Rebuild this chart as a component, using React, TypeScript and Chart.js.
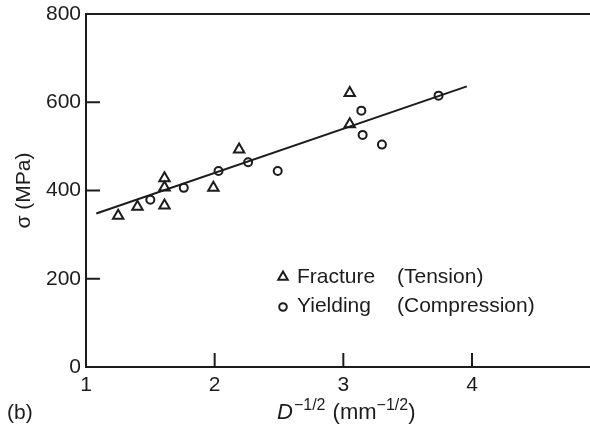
import React, { useEffect, useRef } from 'react';
import { Chart, registerables } from 'chart.js';

Chart.register(...registerables);

// ---- data ----
const tensionX = [1.25, 1.4, 1.61, 1.61, 1.61, 1.99, 2.19, 3.05, 3.05];
const tensionY = [343, 363, 428, 407, 366, 406, 493, 621, 550];
const compressionX = [1.5, 1.76, 2.03, 2.26, 2.49, 3.14, 3.15, 3.3, 3.74];
const compressionY = [379, 406, 444, 464, 444, 581, 526, 504, 615];
const fitX = [1.08, 3.96];
const fitY = [348, 636];
const xTickValues = [1, 2, 3, 4];
const yTickValues = [0, 200, 400, 600, 800];
const xInnerTicks = [2, 3, 4];
const yInnerTicks = [200, 400, 600];
const legendLabels = ['Fracture', 'Yielding'];
const legendNotes = ['(Tension)', '(Compression)'];

const INK = '#1c1c1c';
const FONT = "'Liberation Sans', Arial, Helvetica, sans-serif";

const zip = (xs: number[], ys: number[]) => xs.map((x, i) => ({ x, y: ys[i] }));

function drawTriangle(ctx: CanvasRenderingContext2D, cx: number, cy: number, r: number) {
  ctx.beginPath();
  for (let k = 0; k < 3; k++) {
    const a = -Math.PI / 2 + (k * 2 * Math.PI) / 3;
    const px = cx + r * Math.cos(a);
    const py = cy + r * Math.sin(a);
    if (k === 0) ctx.moveTo(px, py);
    else ctx.lineTo(px, py);
  }
  ctx.closePath();
  ctx.stroke();
}

const overlay = {
  id: 'overlay',
  afterDraw(chart: any) {
    const { ctx, chartArea, scales } = chart;
    const xs = scales.x;
    const ys = scales.y;
    ctx.save();
    ctx.strokeStyle = INK;
    ctx.fillStyle = INK;
    ctx.lineWidth = 2;
    // top frame line and continuation of the bottom axis to the page edge
    ctx.beginPath();
    ctx.moveTo(chartArea.left - 1, chartArea.top);
    ctx.lineTo(chart.width, chartArea.top);
    ctx.moveTo(chartArea.right - 2, chartArea.bottom);
    ctx.lineTo(chart.width, chartArea.bottom);
    ctx.stroke();
    // inner tick marks
    xInnerTicks.forEach((v) => {
      const px = xs.getPixelForValue(v);
      ctx.beginPath();
      ctx.moveTo(px, chartArea.bottom);
      ctx.lineTo(px, chartArea.bottom - 14);
      ctx.stroke();
    });
    yInnerTicks.forEach((v) => {
      const py = ys.getPixelForValue(v);
      ctx.beginPath();
      ctx.moveTo(chartArea.left, py);
      ctx.lineTo(chartArea.left + 14, py);
      ctx.stroke();
    });

    // legend
    const lx = 283;
    const ly = [277, 306];
    ctx.lineWidth = 2;
    drawTriangle(ctx, lx, ly[0], 5.5);
    ctx.beginPath();
    ctx.arc(lx, ly[1] + 1, 3.8, 0, Math.PI * 2);
    ctx.stroke();
    ctx.font = `21px ${FONT}`;
    ctx.textBaseline = 'middle';
    ctx.textAlign = 'left';
    legendLabels.forEach((t, i) => ctx.fillText(t, 297, ly[i]));
    legendNotes.forEach((t, i) => ctx.fillText(t, 397, ly[i]));

    // panel label
    ctx.fillText('(b)', 7, 413);

    // x axis title with superscripts
    let x = 277;
    const base = 413;
    ctx.font = `italic 22px ${FONT}`;
    ctx.fillText('D', x, base);
    x += ctx.measureText('D').width + 1;
    ctx.font = `16px ${FONT}`;
    ctx.fillText('\u22121/2', x, base - 7);
    x += ctx.measureText('\u22121/2').width + 1;
    ctx.font = `22px ${FONT}`;
    ctx.fillText(' (mm', x, base);
    x += ctx.measureText(' (mm').width;
    ctx.font = `16px ${FONT}`;
    ctx.fillText('\u22121/2', x, base - 7);
    x += ctx.measureText('\u22121/2').width;
    ctx.font = `22px ${FONT}`;
    ctx.fillText(')', x, base);
    ctx.restore();
  },
};

export default function App() {
  const ref = useRef<HTMLCanvasElement | null>(null);
  useEffect(() => {
    document.body.style.margin = '0';
    const canvas = ref.current;
    if (!canvas) return;
    const chart = new Chart(canvas, {
      type: 'scatter',
      data: {
        datasets: [
          {
            type: 'line',
            label: 'fit',
            data: zip(fitX, fitY),
            borderColor: INK,
            borderWidth: 2,
            pointRadius: 0,
            fill: false,
          } as any,
          {
            label: 'Fracture (Tension)',
            data: zip(tensionX, tensionY),
            pointStyle: 'triangle',
            pointRadius: 6,
            borderColor: INK,
            backgroundColor: 'rgba(255,255,255,1)',
            borderWidth: 2,
          },
          {
            label: 'Yielding (Compression)',
            data: zip(compressionX, compressionY),
            pointStyle: 'circle',
            pointRadius: 4,
            borderColor: INK,
            backgroundColor: 'rgba(255,255,255,1)',
            borderWidth: 2,
          },
        ],
      },
      options: {
        animation: false,
        responsive: false,
        devicePixelRatio: 1,
        layout: { padding: { top: 14, right: 0, left: 0, bottom: 0 } },
        plugins: { legend: { display: false }, tooltip: { enabled: false } },
        scales: {
          x: {
            type: 'linear',
            min: 1,
            max: 4.855,
            afterBuildTicks: (s: any) => {
              s.ticks = xTickValues.map((v) => ({ value: v }));
            },
            afterFit: (s: any) => {
              s.height = 58;
              s.paddingRight = 0;
              s.paddingLeft = 0;
            },
            grid: { display: false, drawTicks: false },
            border: { display: true, color: INK, width: 2 },
            ticks: {
              color: INK,
              font: { family: FONT, size: 21 },
              padding: 6,
              maxRotation: 0,
              autoSkip: false,
            },
          },
          y: {
            type: 'linear',
            min: 0,
            max: 800,
            afterBuildTicks: (s: any) => {
              s.ticks = yTickValues.map((v) => ({ value: v }));
            },
            afterFit: (s: any) => {
              s.width = 86;
              s.paddingTop = 0;
              s.paddingBottom = 0;
            },
            grid: { display: false, drawTicks: false },
            border: { display: true, color: INK, width: 2 },
            ticks: {
              color: INK,
              font: { family: FONT, size: 21 },
              padding: 5,
              autoSkip: false,
            },
            title: {
              display: true,
              text: '\u03c3 (MPa)',
              color: INK,
              font: { family: FONT, size: 21 },
              padding: { top: 12, bottom: 0 },
            },
          },
        },
      },
      plugins: [overlay],
    });
    return () => chart.destroy();
  }, []);
  return <canvas ref={ref} width={590} height={425} style={{ display: 'block' }} />;
}
